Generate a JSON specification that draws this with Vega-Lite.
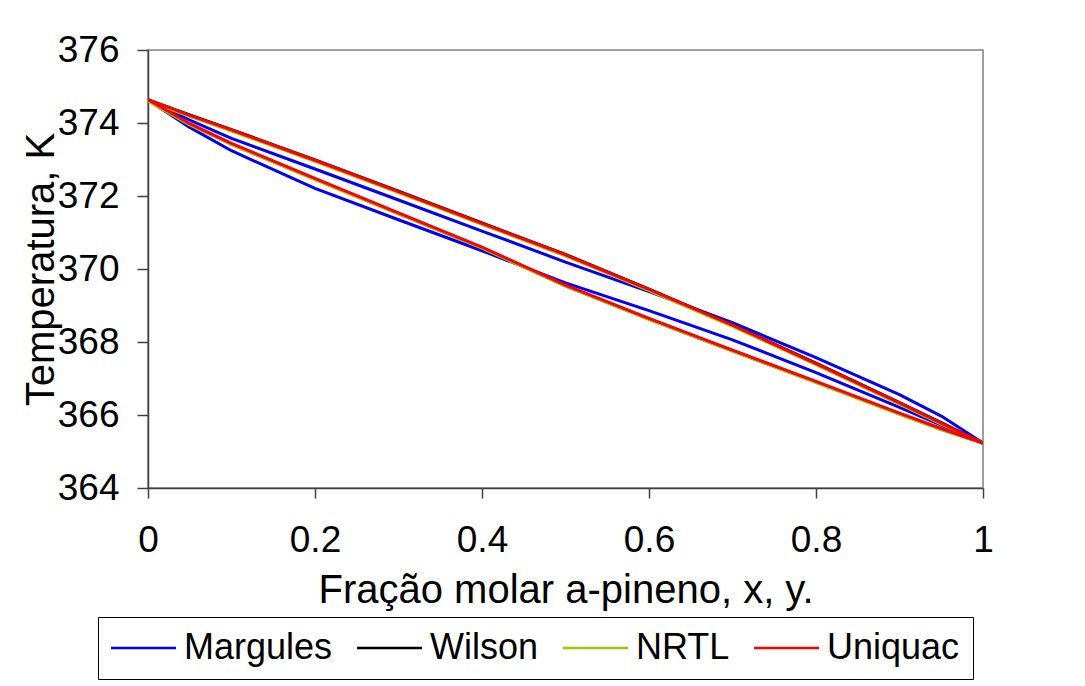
{
  "$schema": "https://vega.github.io/schema/vega-lite/v6.json",
  "width": 835,
  "height": 438,
  "autosize": "none",
  "padding": {"left": 148, "top": 50, "right": 102, "bottom": 198},
  "background": "white",
  "config": {
    "font": "Liberation Sans",
    "view": {"stroke": "#808080", "strokeWidth": 1.5},
    "axis": {
      "grid": false,
      "domainColor": "#404040",
      "domainWidth": 1.5,
      "tickColor": "#404040",
      "tickWidth": 1.5,
      "labelColor": "black",
      "titleColor": "black",
      "labelFont": "Liberation Sans",
      "titleFont": "Liberation Sans",
      "titleFontWeight": "normal"
    }
  },
  "data": {
    "values": [
      {"model": "Margules", "curve": "y", "x": 0, "T": 374.63},
      {"model": "Margules", "curve": "y", "x": 0.05, "T": 374.08},
      {"model": "Margules", "curve": "y", "x": 0.1, "T": 373.58},
      {"model": "Margules", "curve": "y", "x": 0.2, "T": 372.74},
      {"model": "Margules", "curve": "y", "x": 0.3, "T": 371.89},
      {"model": "Margules", "curve": "y", "x": 0.4, "T": 371.04},
      {"model": "Margules", "curve": "y", "x": 0.5, "T": 370.19},
      {"model": "Margules", "curve": "y", "x": 0.6, "T": 369.38},
      {"model": "Margules", "curve": "y", "x": 0.7, "T": 368.53},
      {"model": "Margules", "curve": "y", "x": 0.8, "T": 367.57},
      {"model": "Margules", "curve": "y", "x": 0.9, "T": 366.56},
      {"model": "Margules", "curve": "y", "x": 0.95, "T": 365.97},
      {"model": "Margules", "curve": "y", "x": 1, "T": 365.23},
      {"model": "Margules", "curve": "x", "x": 0, "T": 374.63},
      {"model": "Margules", "curve": "x", "x": 0.05, "T": 373.88},
      {"model": "Margules", "curve": "x", "x": 0.1, "T": 373.24},
      {"model": "Margules", "curve": "x", "x": 0.2, "T": 372.21},
      {"model": "Margules", "curve": "x", "x": 0.3, "T": 371.35},
      {"model": "Margules", "curve": "x", "x": 0.4, "T": 370.5},
      {"model": "Margules", "curve": "x", "x": 0.5, "T": 369.62},
      {"model": "Margules", "curve": "x", "x": 0.6, "T": 368.86},
      {"model": "Margules", "curve": "x", "x": 0.7, "T": 368.06},
      {"model": "Margules", "curve": "x", "x": 0.8, "T": 367.16},
      {"model": "Margules", "curve": "x", "x": 0.9, "T": 366.21},
      {"model": "Margules", "curve": "x", "x": 0.95, "T": 365.72},
      {"model": "Margules", "curve": "x", "x": 1, "T": 365.23},
      {"model": "Wilson", "curve": "y", "x": 0, "T": 374.63},
      {"model": "Wilson", "curve": "y", "x": 0.05, "T": 374.22},
      {"model": "Wilson", "curve": "y", "x": 0.1, "T": 373.82},
      {"model": "Wilson", "curve": "y", "x": 0.2, "T": 372.99},
      {"model": "Wilson", "curve": "y", "x": 0.3, "T": 372.13},
      {"model": "Wilson", "curve": "y", "x": 0.4, "T": 371.26},
      {"model": "Wilson", "curve": "y", "x": 0.5, "T": 370.4},
      {"model": "Wilson", "curve": "y", "x": 0.6, "T": 369.45},
      {"model": "Wilson", "curve": "y", "x": 0.7, "T": 368.47},
      {"model": "Wilson", "curve": "y", "x": 0.8, "T": 367.42},
      {"model": "Wilson", "curve": "y", "x": 0.9, "T": 366.34},
      {"model": "Wilson", "curve": "y", "x": 0.95, "T": 365.79},
      {"model": "Wilson", "curve": "y", "x": 1, "T": 365.23},
      {"model": "Wilson", "curve": "x", "x": 0, "T": 374.63},
      {"model": "Wilson", "curve": "x", "x": 0.05, "T": 373.96},
      {"model": "Wilson", "curve": "x", "x": 0.1, "T": 373.42},
      {"model": "Wilson", "curve": "x", "x": 0.2, "T": 372.46},
      {"model": "Wilson", "curve": "x", "x": 0.3, "T": 371.52},
      {"model": "Wilson", "curve": "x", "x": 0.4, "T": 370.58},
      {"model": "Wilson", "curve": "x", "x": 0.5, "T": 369.54},
      {"model": "Wilson", "curve": "x", "x": 0.6, "T": 368.63},
      {"model": "Wilson", "curve": "x", "x": 0.7, "T": 367.76},
      {"model": "Wilson", "curve": "x", "x": 0.8, "T": 366.9},
      {"model": "Wilson", "curve": "x", "x": 0.9, "T": 366.03},
      {"model": "Wilson", "curve": "x", "x": 0.95, "T": 365.61},
      {"model": "Wilson", "curve": "x", "x": 1, "T": 365.23},
      {"model": "NRTL", "curve": "y", "x": 0, "T": 374.6},
      {"model": "NRTL", "curve": "y", "x": 0.05, "T": 374.18},
      {"model": "NRTL", "curve": "y", "x": 0.1, "T": 373.78},
      {"model": "NRTL", "curve": "y", "x": 0.2, "T": 372.95},
      {"model": "NRTL", "curve": "y", "x": 0.3, "T": 372.09},
      {"model": "NRTL", "curve": "y", "x": 0.4, "T": 371.22},
      {"model": "NRTL", "curve": "y", "x": 0.5, "T": 370.36},
      {"model": "NRTL", "curve": "y", "x": 0.6, "T": 369.41},
      {"model": "NRTL", "curve": "y", "x": 0.7, "T": 368.43},
      {"model": "NRTL", "curve": "y", "x": 0.8, "T": 367.38},
      {"model": "NRTL", "curve": "y", "x": 0.9, "T": 366.3},
      {"model": "NRTL", "curve": "y", "x": 0.95, "T": 365.75},
      {"model": "NRTL", "curve": "y", "x": 1, "T": 365.23},
      {"model": "NRTL", "curve": "x", "x": 0, "T": 374.6},
      {"model": "NRTL", "curve": "x", "x": 0.05, "T": 373.95},
      {"model": "NRTL", "curve": "x", "x": 0.1, "T": 373.41},
      {"model": "NRTL", "curve": "x", "x": 0.2, "T": 372.45},
      {"model": "NRTL", "curve": "x", "x": 0.3, "T": 371.51},
      {"model": "NRTL", "curve": "x", "x": 0.4, "T": 370.57},
      {"model": "NRTL", "curve": "x", "x": 0.5, "T": 369.53},
      {"model": "NRTL", "curve": "x", "x": 0.6, "T": 368.62},
      {"model": "NRTL", "curve": "x", "x": 0.7, "T": 367.75},
      {"model": "NRTL", "curve": "x", "x": 0.8, "T": 366.89},
      {"model": "NRTL", "curve": "x", "x": 0.9, "T": 366.02},
      {"model": "NRTL", "curve": "x", "x": 0.95, "T": 365.6},
      {"model": "NRTL", "curve": "x", "x": 1, "T": 365.23},
      {"model": "Uniquac", "curve": "y", "x": 0, "T": 374.64},
      {"model": "Uniquac", "curve": "y", "x": 0.05, "T": 374.21},
      {"model": "Uniquac", "curve": "y", "x": 0.1, "T": 373.81},
      {"model": "Uniquac", "curve": "y", "x": 0.2, "T": 372.98},
      {"model": "Uniquac", "curve": "y", "x": 0.3, "T": 372.12},
      {"model": "Uniquac", "curve": "y", "x": 0.4, "T": 371.25},
      {"model": "Uniquac", "curve": "y", "x": 0.5, "T": 370.39},
      {"model": "Uniquac", "curve": "y", "x": 0.6, "T": 369.44},
      {"model": "Uniquac", "curve": "y", "x": 0.7, "T": 368.46},
      {"model": "Uniquac", "curve": "y", "x": 0.8, "T": 367.41},
      {"model": "Uniquac", "curve": "y", "x": 0.9, "T": 366.33},
      {"model": "Uniquac", "curve": "y", "x": 0.95, "T": 365.78},
      {"model": "Uniquac", "curve": "y", "x": 1, "T": 365.23},
      {"model": "Uniquac", "curve": "x", "x": 0, "T": 374.64},
      {"model": "Uniquac", "curve": "x", "x": 0.05, "T": 373.98},
      {"model": "Uniquac", "curve": "x", "x": 0.1, "T": 373.44},
      {"model": "Uniquac", "curve": "x", "x": 0.2, "T": 372.48},
      {"model": "Uniquac", "curve": "x", "x": 0.3, "T": 371.54},
      {"model": "Uniquac", "curve": "x", "x": 0.4, "T": 370.6},
      {"model": "Uniquac", "curve": "x", "x": 0.5, "T": 369.56},
      {"model": "Uniquac", "curve": "x", "x": 0.6, "T": 368.65},
      {"model": "Uniquac", "curve": "x", "x": 0.7, "T": 367.78},
      {"model": "Uniquac", "curve": "x", "x": 0.8, "T": 366.92},
      {"model": "Uniquac", "curve": "x", "x": 0.9, "T": 366.05},
      {"model": "Uniquac", "curve": "x", "x": 0.95, "T": 365.63},
      {"model": "Uniquac", "curve": "x", "x": 1, "T": 365.23}
    ]
  },
  "mark": {"type": "line", "clip": true, "strokeJoin": "round", "strokeWidth": 3},
  "encoding": {
    "x": {
      "field": "x",
      "type": "quantitative",
      "scale": {"domain": [0, 1], "nice": false},
      "axis": {
        "values": [0, 0.2, 0.4, 0.6, 0.8, 1],
        "format": "~g",
        "labelFlush": false,
        "tickSize": 10,
        "labelFontSize": 37,
        "labelPadding": 24,
        "title": "Fração molar a-pineno, x, y.",
        "titleFontSize": 40,
        "titleY": 114,
        "titleBaseline": "alphabetic"
      }
    },
    "y": {
      "field": "T",
      "type": "quantitative",
      "scale": {"domain": [364, 376], "nice": false, "zero": false},
      "axis": {
        "values": [364, 366, 368, 370, 372, 374, 376],
        "labelFlush": false,
        "tickSize": 11,
        "labelFontSize": 37,
        "labelPadding": 18,
        "title": "Temperatura, K",
        "titleFontSize": 40,
        "titleAngle": 270,
        "titleX": -95,
        "titleY": 219,
        "titleBaseline": "alphabetic"
      }
    },
    "color": {
      "field": "model",
      "type": "nominal",
      "scale": {
        "domain": ["Margules", "Wilson", "NRTL", "Uniquac"],
        "range": ["#0000FF", "#000000", "#99CC00", "#FF0000"]
      },
      "legend": {
        "orient": "none",
        "legendX": -50,
        "legendY": 567,
        "direction": "horizontal",
        "title": null,
        "symbolType": "M-2,0L5.222,0",
        "symbolSize": 324,
        "symbolStrokeWidth": 2.5,
        "labelFontSize": 36,
        "labelFont": "Liberation Sans",
        "labelColor": "black",
        "labelOffset": 37,
        "columnPadding": 19,
        "padding": 13,
        "strokeColor": "black"
      }
    },
    "detail": {"field": "curve"},
    "order": {"field": "x", "type": "quantitative"}
  }
}
